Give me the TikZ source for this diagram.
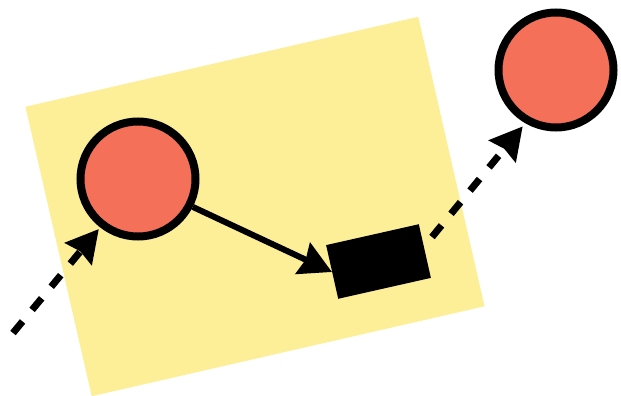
\documentclass[tikz,border=0pt]{standalone}
\usetikzlibrary{arrows.meta}
\definecolor{paper}{HTML}{FDEF98}
\definecolor{ball}{HTML}{F47058}
\begin{document}
\begin{tikzpicture}[x=1pt,y=-1pt,
  ballnode/.style={circle,draw=black,fill=ball,line width=8pt,minimum size=115pt,inner sep=0pt},
  blockbox/.style={rectangle,fill=black,minimum width=95pt,minimum height=55pt,inner sep=0pt,rotate=12.7},
  sheet/.style={rectangle,fill=paper,minimum width=403pt,minimum height=297pt,inner sep=0pt,rotate=12.9},
  bigtip/.style={-{Stealth[length=32pt,width=34pt,inset=3pt]}},
  solidlink/.style={line width=6pt,bigtip},
  dashlink/.style={line width=7pt,dash pattern=on 15pt off 15pt,bigtip}]
\useasboundingbox (0,0) rectangle (621,396);
\node[sheet] (s) at (255,206.5) {};
\node[ballnode] (c1) at (138,179) {};
\node[ballnode] (c2) at (556,70) {};
\node[blockbox] (r) at (378.5,261.5) {};
\coordinate (d1) at (13,333);
\coordinate (d2) at (432,237);
\draw[solidlink] (c1.-27) -- (r.west);
\draw[dashlink,shorten >=2pt] (d1) -- (c1.-128);
\draw[dashlink,shorten >=4pt] (d2) -- (c2.-120);
\end{tikzpicture}
\end{document}
